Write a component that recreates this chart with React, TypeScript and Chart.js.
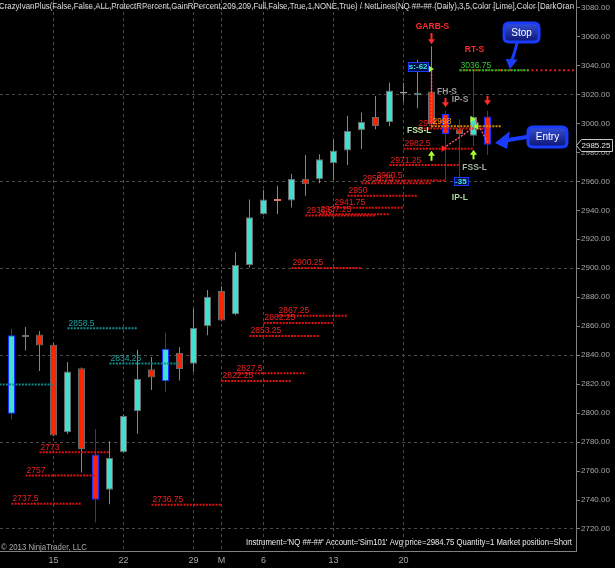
import React, { useEffect, useRef } from "react";
import { Chart, registerables } from "chart.js";

Chart.register(...registerables);

// ---- Daily OHLC bars (index 0 = first visible session) ----
const barIndex = Array.from({ length: 35 }, (_, i) => i);
const opens = [2799.5, 2852.5, 2854.25, 2847.25, 2786.75, 2831, 2771.5, 2747, 2773, 2801.25, 2830.25, 2822, 2841.75, 2834, 2860, 2884.25, 2868.25, 2902.25, 2937.25, 2947.5, 2946.75, 2961.75, 2961.5, 2972.5, 2981.25, 2995.5, 3004.5, 3001, 3021.5, 3019.5, 3022, 3006.5, 2996, 2991.5, 3004.75];
const highs = [2858.25, 2859.5, 2856.75, 2848.5, 2835.25, 2831.5, 2789, 2780.5, 2799, 2843.75, 2838.75, 2855.5, 2845.5, 2872, 2885, 2887.5, 2911, 2947.5, 2954, 2957, 2965, 2978.25, 2978.75, 2988.75, 3005.25, 3007.5, 3019, 3028.25, 3028, 3044, 3053.25, 3008.75, 3003, 3036.75, 3008.75];
const lows = [2795.5, 2843.25, 2829, 2784, 2785.5, 2759, 2724.5, 2737, 2772.5, 2785.75, 2816, 2814.5, 2822.5, 2828.5, 2853.75, 2863.5, 2867.5, 2900.5, 2937, 2937.5, 2942, 2950, 2958.75, 2961, 2971.25, 2982.25, 2996, 2998, 3015, 3010.5, 2996, 2961, 2957.5, 2984, 2978.25];
const closes = [2853.75, 2854, 2846.75, 2784.5, 2828.75, 2775.25, 2740.25, 2769, 2798, 2823.75, 2824.5, 2844.5, 2830.5, 2859, 2880.25, 2864, 2902.25, 2935.25, 2947.5, 2946.75, 2961.75, 2958, 2975.25, 2981.25, 2995, 3001, 2998.25, 3022.75, 3021, 3021.25, 2999.5, 2992.75, 2992.75, 3004.5, 2985.25];

// bars flagged by the indicator (blue outline / blue wick)
const flaggedBars = [0, 6, 11, 31, 34];
const blueWickBars = [0, 6, 11, 31, 32, 34];

// ---- axis ticks ----
const xTickIndex = [3, 8, 13, 15, 18, 23, 28];
const xTickLabels = ["15", "22", "29", "M", "6", "13", "20"];
const yTickValues = [2720, 2740, 2760, 2780, 2800, 2820, 2840, 2860, 2880, 2900, 2920, 2940, 2960, 2980, 3000, 3020, 3040, 3060, 3080];

// ---- NetLines levels ----
const levelStart = [-2, 0, 1, 2, 4, 7, 10, 15, 16, 17, 18, 19, 20, 21, 22, 23, 24, 25, 26, 27, 28, 29, 30, 32];
const levelValue = [2819.75, 2737.5, 2757, 2773, 2858.5, 2834.25, 2736.75, 2822.25, 2827.5, 2853.25, 2862.25, 2867.25, 2900.25, 2936.5, 2937.25, 2941.75, 2950, 2958.75, 2960.5, 2971.25, 2982.5, 2996.5, 2998, 3036.75];
const levelKind = ["teal", "red", "red", "red", "teal", "teal", "red", "red", "red", "red", "red", "red", "red", "red", "red", "red", "red", "red", "red", "red", "red", "red", "orange", "green"];
const levelLength = 5;

// ---- stop / position ----
const stopPrice = 3036.75;
const stopStartBar = 32;
const lastPrice = 2985.25;

// ---- signal labels (bar position, price) ----
const signalText = ["GARB-S", "RT-S", "FH-S", "IP-S", "FSS-L", "FSS-L", "IP-L"];
const signalBar = [30, 33, 30.4, 31.45, 28.25, 32.2, 31.45];
const signalPrice = [3066.6, 3050.7, 3021.7, 3016.2, 2994.8, 2969.2, 2948.5];

const upColor = "#40e0d0";
const downColor = "#ff2400";

const lineColors: Record<string, string> = { red: "#dd1111", teal: "#0e8a8a", orange: "#d88a00", green: "#22bb22" };
const labelColors: Record<string, string> = { red: "#f02020", teal: "#22a0a0", orange: "#ffa000", green: "#33cc33" };

const FONT = "Arial, 'Liberation Sans', sans-serif";
const BLUE = "#1a3cff";

function roundRect(ctx: CanvasRenderingContext2D, x: number, y: number, w: number, h: number, r: number) {
  ctx.beginPath();
  ctx.moveTo(x + r, y);
  ctx.lineTo(x + w - r, y);
  ctx.quadraticCurveTo(x + w, y, x + w, y + r);
  ctx.lineTo(x + w, y + h - r);
  ctx.quadraticCurveTo(x + w, y + h, x + w - r, y + h);
  ctx.lineTo(x + r, y + h);
  ctx.quadraticCurveTo(x, y + h, x, y + h - r);
  ctx.lineTo(x, y + r);
  ctx.quadraticCurveTo(x, y, x + r, y);
  ctx.closePath();
}

function vArrow(ctx: CanvasRenderingContext2D, x: number, y1: number, y2: number, down: boolean, color: string) {
  const top = Math.min(y1, y2), bot = Math.max(y1, y2);
  ctx.fillStyle = color;
  if (down) {
    ctx.fillRect(x - 1, top, 2, bot - top - 4);
    ctx.beginPath();
    ctx.moveTo(x - 3.5, bot - 5);
    ctx.lineTo(x + 3.5, bot - 5);
    ctx.lineTo(x, bot);
    ctx.closePath();
    ctx.fill();
  } else {
    ctx.fillRect(x - 1, top + 4, 2, bot - top - 4);
    ctx.beginPath();
    ctx.moveTo(x - 3.5, top + 5);
    ctx.lineTo(x + 3.5, top + 5);
    ctx.lineTo(x, top);
    ctx.closePath();
    ctx.fill();
  }
}

function tri(ctx: CanvasRenderingContext2D, x: number, y: number, right: boolean, color: string) {
  ctx.fillStyle = color;
  ctx.beginPath();
  if (right) {
    ctx.moveTo(x - 2, y - 3.5);
    ctx.lineTo(x + 3, y);
    ctx.lineTo(x - 2, y + 3.5);
  } else {
    ctx.moveTo(x + 2, y - 3.5);
    ctx.lineTo(x - 3, y);
    ctx.lineTo(x + 2, y + 3.5);
  }
  ctx.closePath();
  ctx.fill();
}

function boxLabel(ctx: CanvasRenderingContext2D, cx: number, cy: number, w: number, h: number, text: string) {
  ctx.fillStyle = "#061040";
  ctx.fillRect(cx - w / 2, cy - h / 2, w, h);
  ctx.strokeStyle = BLUE;
  ctx.lineWidth = 1;
  ctx.strokeRect(Math.round(cx - w / 2) + 0.5, Math.round(cy - h / 2) + 0.5, w, h);
  ctx.fillStyle = "#40e8e8";
  ctx.font = `bold 8px ${FONT}`;
  ctx.textAlign = "center";
  ctx.textBaseline = "middle";
  ctx.fillText(text, cx, cy + 0.5);
}

function callout(ctx: CanvasRenderingContext2D, x: number, y: number, w: number, h: number, text: string) {
  const g = ctx.createLinearGradient(0, y, 0, y + h);
  g.addColorStop(0, "#3550d8");
  g.addColorStop(1, "#0c1470");
  roundRect(ctx, x, y, w, h, 5);
  ctx.fillStyle = g;
  ctx.fill();
  ctx.strokeStyle = BLUE;
  ctx.lineWidth = 3;
  ctx.stroke();
  ctx.fillStyle = "#ffffff";
  ctx.font = `10px ${FONT}`;
  ctx.textAlign = "center";
  ctx.textBaseline = "middle";
  ctx.fillText(text, x + w / 2, y + h / 2 + 0.5);
}

function dotted(ctx: CanvasRenderingContext2D, x1: number, y1: number, x2: number, y2: number, color: string) {
  ctx.save();
  ctx.strokeStyle = color;
  ctx.lineWidth = 1.5;
  ctx.setLineDash([2, 1.5]);
  ctx.beginPath();
  ctx.moveTo(x1, y1);
  ctx.lineTo(x2, y2);
  ctx.stroke();
  ctx.restore();
}

const overlayPlugin = {
  id: "overlay",
  afterDraw(chart: any) {
    const { ctx, chartArea: ca, scales } = chart;
    const xs = scales.x, ys = scales.y;
    const X = (i: number) => xs.getPixelForValue(i);
    const Y = (p: number) => ys.getPixelForValue(p);
    ctx.save();

    // level labels
    ctx.font = `8.5px ${FONT}`;
    ctx.textAlign = "left";
    ctx.textBaseline = "alphabetic";
    levelStart.forEach((s, k) => {
      if (s < xs.min) return;
      ctx.fillStyle = labelColors[levelKind[k]];
      ctx.fillText(String(levelValue[k]), X(s) + 1, Y(levelValue[k]) - 2.5);
    });

    // trade lines & markers
    dotted(ctx, X(30), Y(3036.5), X(30), Y(3000), "#ff5070");
    dotted(ctx, X(30.86), Y(2982.9), X(33.14), Y(2998), "#ff5070");
    dotted(ctx, X(33.14), Y(3003), X(34), Y(2987), "#ff5070");
    tri(ctx, X(29.95), Y(3037.6), true, "#99ff33");
    tri(ctx, X(30.86), Y(2982.6), true, "#ff2020");
    tri(ctx, X(33.2), Y(2997.8), false, "#99ff33");
    tri(ctx, X(32.93), Y(3002.9), true, "#99ff33");

    // signal arrows
    vArrow(ctx, X(30), Y(3062.4), Y(3054.6), true, "#ff2a2a");
    vArrow(ctx, X(31), Y(3017.6), Y(3011.2), true, "#ff2a2a");
    vArrow(ctx, X(34), Y(3019), Y(3012.6), true, "#ff2a2a");
    vArrow(ctx, X(30), Y(2981.2), Y(2974.2), false, "#a8ff30");
    vArrow(ctx, X(33), Y(2981.8), Y(2975.2), false, "#a8ff30");

    // signal texts
    const sigColors = ["#ff2a2a", "#ff2a2a", "#9a9a9a", "#9a9a9a", "#b8e8a8", "#a0b4a0", "#a8d8a0"];
    const sigCenter = [true, true, false, false, false, false, false];
    signalText.forEach((t, k) => {
      ctx.font = `bold 8.5px ${FONT}`;
      ctx.fillStyle = sigColors[k];
      ctx.textAlign = sigCenter[k] ? "center" : "left";
      ctx.textBaseline = "middle";
      ctx.fillText(t, X(signalBar[k]) + (sigCenter[k] ? 1 : 0), Y(signalPrice[k]));
    });

    boxLabel(ctx, X(29.05), Y(3039.3), 20, 9, "s:-62");
    boxLabel(ctx, X(32.1), Y(2960.3), 14, 8, "-35");

    // Stop callout
    callout(ctx, X(35.18), Y(3069.3), 35, 19, "Stop");
    ctx.strokeStyle = BLUE;
    ctx.fillStyle = BLUE;
    ctx.lineWidth = 3;
    ctx.lineCap = "round";
    ctx.beginPath();
    ctx.moveTo(X(36.11), Y(3055.5));
    ctx.quadraticCurveTo(X(35.95), Y(3049), X(35.72), Y(3043));
    ctx.stroke();
    ctx.beginPath();
    ctx.moveTo(X(35.3), Y(3044.5));
    ctx.lineTo(X(36.15), Y(3044.2));
    ctx.lineTo(X(35.61), Y(3037.4));
    ctx.closePath();
    ctx.fill();

    // Entry callout
    callout(ctx, X(36.89), Y(2997.5), 39, 20, "Entry");
    ctx.strokeStyle = BLUE;
    ctx.fillStyle = BLUE;
    ctx.lineWidth = 4;
    ctx.beginPath();
    ctx.moveTo(X(36.82), Y(2990.6));
    ctx.quadraticCurveTo(X(36.1), Y(2989.6), X(35.5), Y(2988.6));
    ctx.stroke();
    ctx.beginPath();
    ctx.moveTo(X(35.61), Y(2994.8));
    ctx.lineTo(X(35.4), Y(2982.4));
    ctx.lineTo(X(34.54), Y(2986.5));
    ctx.closePath();
    ctx.fill();

    // current price marker
    const py = Math.round(Y(lastPrice)) + 0.5;
    const ax = ca.right + 0.5;
    ctx.lineCap = "butt";
    ctx.beginPath();
    ctx.moveTo(ax, py);
    ctx.lineTo(ax + 5, py - 6);
    ctx.lineTo(ax + 36, py - 6);
    ctx.lineTo(ax + 36, py + 6);
    ctx.lineTo(ax + 5, py + 6);
    ctx.closePath();
    ctx.fillStyle = "#000";
    ctx.fill();
    ctx.strokeStyle = "#c8c8c8";
    ctx.lineWidth = 1;
    ctx.stroke();
    ctx.fillStyle = "#e8e8e8";
    ctx.font = `8px ${FONT}`;
    ctx.textAlign = "left";
    ctx.textBaseline = "middle";
    ctx.fillText(lastPrice.toFixed(2), ax + 5, py + 0.5);

    // header / footer texts
    ctx.save();
    ctx.beginPath();
    ctx.rect(ca.left, 0, ca.right - ca.left, chart.height);
    ctx.clip();
    ctx.fillStyle = "#d8d8d8";
    ctx.font = `9px ${FONT}`;
    ctx.textAlign = "left";
    ctx.textBaseline = "middle";
    ctx.fillText(
      "CrazyIvanPlus(False,False,ALL,ProtectRPercent,GainRPercent,209,209,Full,False,True,1,NONE,True) / NetLines(NQ ##-## (Daily),3,5,Color [Lime],Color [DarkOran",
      -1, 7, 575
    );
    ctx.restore();

    ctx.fillStyle = "#ececec";
    ctx.font = `9px ${FONT}`;
    ctx.textAlign = "right";
    ctx.textBaseline = "middle";
    ctx.fillText(
      "Instrument='NQ ##-##' Account='Sim101' Avg price=2984.75 Quantity=1 Market position=Short",
      572, 543, 326
    );
    ctx.fillStyle = "#a8a8a8";
    ctx.textAlign = "left";
    ctx.fillText("\u00a9 2013 NinjaTrader, LLC", 1, 548, 86);

    ctx.restore();
  },
};

export default function App() {
  const ref = useRef<HTMLCanvasElement>(null);

  useEffect(() => {
    const canvas = ref.current;
    if (!canvas) return;

    const minBody = 1.25;
    const bodyData = barIndex.map((i) => {
      let lo = Math.min(opens[i], closes[i]);
      let hi = Math.max(opens[i], closes[i]);
      if (hi - lo < minBody) {
        const m = (hi + lo) / 2;
        lo = m - minBody / 2;
        hi = m + minBody / 2;
      }
      return { x: i, y: [lo, hi] };
    });
    const isDoji = (i: number) => Math.abs(closes[i] - opens[i]) < 1;
    const bodyFill = barIndex.map((i) => {
      if (isDoji(i)) {
        if (i === 19) return "#e07868";
        if (i === 28) return "#a0a0a0";
      }
      return closes[i] >= opens[i] ? upColor : downColor;
    });
    const bodyBorder = barIndex.map((i) => {
      if (flaggedBars.includes(i)) return "#1a2eff";
      if (i === 19 || i === 28) return bodyFill[i];
      return "#6a6a6a";
    });
    const wickColor = barIndex.map((i) => {
      if (blueWickBars.includes(i)) return "#1a2eff";
      if (i === 33) return "#0b6e0b";
      return "#858585";
    });

    const datasets: any[] = [
      {
        type: "bar",
        label: "wick",
        data: barIndex.map((i) => ({ x: i, y: [lows[i], highs[i]] })),
        backgroundColor: wickColor,
        borderWidth: 0,
        barThickness: 1,
        grouped: false,
        inflateAmount: 0,
        order: 30,
      },
      {
        type: "bar",
        label: "body",
        data: bodyData,
        backgroundColor: bodyFill,
        borderColor: bodyBorder,
        borderWidth: 1,
        borderSkipped: false,
        barThickness: 7,
        grouped: false,
        inflateAmount: 0,
        order: 20,
      },
      {
        type: "line",
        label: "stop",
        data: [
          { x: stopStartBar, y: stopPrice },
          { x: 41, y: stopPrice },
        ],
        borderColor: "#e81818",
        borderWidth: 2,
        borderDash: [2, 2.5],
        pointRadius: 0,
        fill: false,
        order: 5,
      },
    ];
    levelStart.forEach((s, k) => {
      datasets.push({
        type: "line",
        label: "L" + levelValue[k],
        data: [
          { x: s, y: levelValue[k] },
          { x: s + levelLength, y: levelValue[k] },
        ],
        borderColor: lineColors[levelKind[k]],
        borderWidth: 2,
        borderDash: [2, 1.2],
        pointRadius: 0,
        fill: false,
        order: levelKind[k] === "green" ? 1 : 10,
      });
    });

    const zeroPad = (s: any) => {
      s.paddingTop = 0;
      s.paddingBottom = 0;
      s.paddingLeft = 0;
      s.paddingRight = 0;
    };

    const chart = new Chart(canvas, {
      type: "bar",
      data: { datasets },
      plugins: [overlayPlugin],
      options: {
        responsive: false,
        animation: false,
        events: [],
        layout: { padding: 0 },
        plugins: { legend: { display: false }, tooltip: { enabled: false }, title: { display: false } },
        scales: {
          x: {
            type: "linear",
            min: -11.5 / 14,
            max: (576 - 11.5) / 14,
            offset: false,
            afterBuildTicks: (s: any) => {
              s.ticks = xTickIndex.map((v) => ({ value: v }));
            },
            afterFit: (s: any) => {
              s.height = 17;
              zeroPad(s);
            },
            ticks: {
              autoSkip: false,
              maxRotation: 0,
              color: "#a8a8a8",
              font: { size: 9, family: FONT },
              padding: 4,
              callback: (_v: any, idx: number) => xTickLabels[idx],
            },
            grid: { color: "#4a4a4a", drawTicks: false, offset: false, lineWidth: 1 },
            border: { display: true, color: "#808080", dash: [3, 3] },
          },
          y: {
            type: "linear",
            position: "right",
            min: 2704.8,
            max: 3085.2,
            afterBuildTicks: (s: any) => {
              s.ticks = yTickValues.map((v) => ({ value: v }));
            },
            afterFit: (s: any) => {
              s.width = 39;
              zeroPad(s);
            },
            ticks: {
              autoSkip: false,
              color: "#a8a8a8",
              font: { size: 8, family: FONT },
              padding: 1,
              callback: (v: any) => Number(v).toFixed(2),
            },
            grid: {
              color: (c: any) => {
                const v = c && c.tick ? Math.round(c.tick.value) : 0;
                return (3020 - v) % 60 === 0 ? "#4a4a4a" : "rgba(0,0,0,0)";
              },
              tickColor: "#808080",
              tickLength: 4,
              lineWidth: 1,
            },
            border: { display: true, color: "#808080", dash: [3, 3] },
          },
        },
      } as any,
    });

    return () => chart.destroy();
  }, []);

  return (
    <div style={{ position: "fixed", left: 0, top: 0, width: 615, height: 568, background: "#000", overflow: "hidden" }}>
      <canvas ref={ref} width={615} height={568} style={{ display: "block", width: 615, height: 568 }} />
    </div>
  );
}
